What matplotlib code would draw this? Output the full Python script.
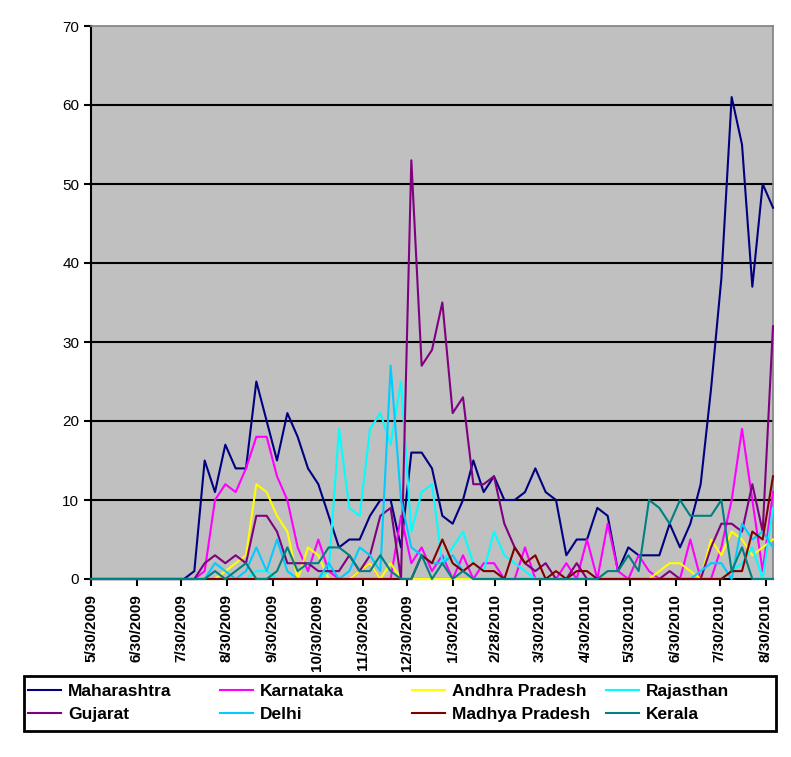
import pandas as pd
import matplotlib
matplotlib.use('Agg')
from matplotlib import pyplot as plt
from matplotlib.patches import Rectangle

# weekly cases, one value per week starting 5/30/2009
start = '2009-05-30'
n_weeks = 67

maharashtra = [0]*10 + [1, 15, 11, 17, 14, 14, 25, 20, 15, 21,
                        18, 14, 12, 8, 4, 5, 5, 8, 10, 10,
                        4, 16, 16, 14, 8, 7, 10, 15, 11, 13,
                        10, 10, 11, 14, 11, 10, 3, 5, 5, 9,
                        8, 1, 4, 3, 3, 3, 7, 4, 7, 12,
                        24, 38, 61, 55, 37, 50, 47]
karnataka = [0]*11 + [1, 10, 12, 11, 14, 18, 18, 13, 10, 4,
                      1, 5, 1, 0, 0, 1, 2, 0, 0, 8,
                      2, 4, 1, 3, 0, 3, 0, 2, 2, 0,
                      0, 4, 0, 0, 0, 2, 0, 5, 0, 7,
                      1, 0, 3, 1, 0, 0, 0, 5, 0, 0,
                      4, 10, 19, 10, 1, 11]
andhra = [0]*13 + [1, 2, 3, 12, 11, 8, 6, 0, 4, 3, 0, 0, 0, 1, 2, 0, 2, 0] \
    + [0]*24 + [1, 2, 2, 1, 0, 5, 3, 6, 5, 3, 4, 5]
rajasthan = [0]*16 + [1, 1, 0, 0, 0, 0, 0, 1] \
    + [19, 9, 8, 19, 21, 17, 25, 6, 11, 12, 2, 4, 6, 2, 1, 6, 3, 2, 1] \
    + [0]*19 + [1, 2, 4, 0, 9]
gujarat = [0]*11 + [2, 3, 2, 3, 2, 8, 8, 6, 2, 2,
                    2, 1, 1, 1, 3, 1, 3, 8, 9, 0,
                    53, 27, 29, 35, 21, 23, 12, 12, 13, 7,
                    4, 2, 1, 2, 0, 0, 2, 0] \
    + [0]*7 + [1, 0, 0, 0, 4, 7, 7, 6, 12, 6, 32]
delhi = [0]*12 + [2, 1, 0, 1, 4, 1, 5, 1, 0, 0,
                  0, 2, 0, 1, 4, 3, 1, 27, 10, 4,
                  3, 2, 2, 3, 1] \
    + [0]*22 + [1, 2, 2, 0, 7, 5, 6, 4]
madhya = [0]*32 + [3, 2, 5, 2, 1, 2, 1, 1, 0, 4, 2, 3, 0, 1, 0, 1, 1] \
    + [0]*13 + [1, 1, 6, 5, 13]
kerala = [0]*12 + [1, 0, 1, 2, 0, 0, 1, 4, 1, 2,
                   2, 4, 4, 3, 1, 1, 3, 1, 0, 0,
                   3, 0, 2, 0, 1] \
    + [0]*13 + [1, 1, 3, 1, 10, 9, 7, 10, 8, 8, 8, 10, 1, 4, 0, 0, 0]

tick_labels = ['5/30/2009', '6/30/2009', '7/30/2009', '8/30/2009', '9/30/2009',
               '10/30/2009', '11/30/2009', '12/30/2009', '1/30/2010', '2/28/2010',
               '3/30/2010', '4/30/2010', '5/30/2010', '6/30/2010', '7/30/2010',
               '8/30/2010']

series = [('Maharashtra', maharashtra, '#000080'),
          ('Karnataka', karnataka, '#FF00FF'),
          ('Andhra Pradesh', andhra, '#FFFF00'),
          ('Rajasthan', rajasthan, '#00FFFF'),
          ('Gujarat', gujarat, '#800080'),
          ('Delhi', delhi, '#00CCFF'),
          ('Madhya Pradesh', madhya, '#800000'),
          ('Kerala', kerala, '#008080')]

dates = pd.date_range(start, periods=n_weeks, freq='7D')
tick_dates = pd.to_datetime(tick_labels, format='%m/%d/%Y')

plt.rcParams['font.family'] = ['Liberation Sans', 'DejaVu Sans']

W, H = 791, 757
fig = plt.figure(figsize=(W/100, H/100), dpi=100)
ax = fig.add_axes([91/W, 1 - 579/H, (773 - 91)/W, (579 - 26)/H])
ax.set_facecolor('#C0C0C0')

for y in range(10, 70, 10):
    ax.axhline(y, color='black', linewidth=1.5, zorder=1)

lines = {}
for name, vals, col in series:
    ln, = ax.plot(dates, vals, color=col, linewidth=1.5, label=name,
                  zorder=3, clip_on=False)
    lines[name] = ln

ax.set_ylim(0, 70)
ax.set_yticks(range(0, 71, 10))
ax.set_xlim(dates[0], dates[-1])
ax.set_xticks(tick_dates)
ax.set_xticklabels(tick_labels, rotation=90, fontweight='bold', fontsize=11)
ax.tick_params(axis='y', labelsize=11, direction='out', length=5, width=1.5)
ax.tick_params(axis='x', direction='out', length=5, width=1.5, pad=6)

for s in ['left', 'bottom']:
    ax.spines[s].set_color('black')
    ax.spines[s].set_linewidth(1.5)
for s in ['top', 'right']:
    ax.spines[s].set_color('#808080')
    ax.spines[s].set_linewidth(1.2)

# legend box with four equal-width columns, two entries each
fig.add_artist(Rectangle((24/W, 1 - 731/H), 752/W, 55/H, transform=fig.transFigure,
                         facecolor='white', edgecolor='black', linewidth=2))
columns = [['Maharashtra', 'Gujarat'], ['Karnataka', 'Delhi'],
           ['Andhra Pradesh', 'Madhya Pradesh'], ['Rajasthan', 'Kerala']]
col_x = [28, 220, 412, 606]
for cx, names in zip(col_x, columns):
    fig.legend([lines[k] for k in names], names, loc='upper left',
               bbox_to_anchor=(cx/W, 1 - 684/H), frameon=False,
               handlelength=1.9, handletextpad=0.4, borderpad=0,
               borderaxespad=0, labelspacing=0.45,
               prop={'weight': 'bold', 'size': 12.5})

fig.savefig('out.png', dpi=100)
